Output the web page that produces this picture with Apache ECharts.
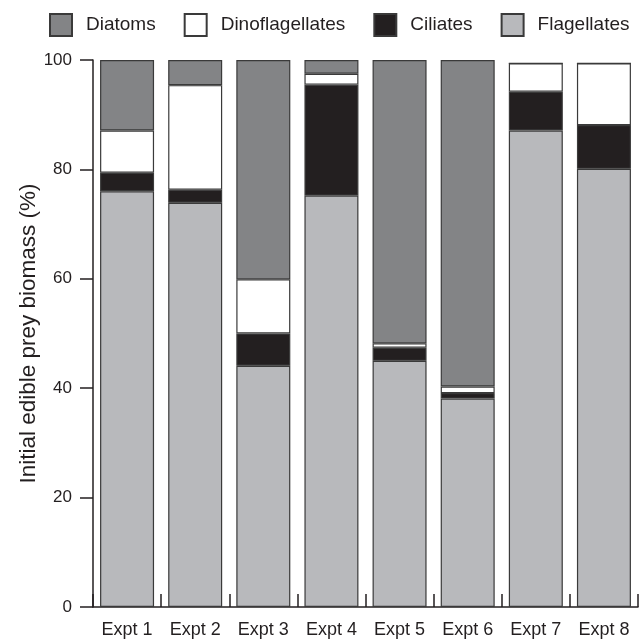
<!DOCTYPE html>
<html>
<head>
<meta charset="utf-8">
<script src="https://cdn.jsdelivr.net/npm/echarts@6/dist/echarts.min.js"></script>
<style>html,body{margin:0;padding:0;background:#fff;}#c{width:644px;height:639px;}</style>
</head>
<body>
<div id="c"></div>
<script>
const categories = ['Expt 1','Expt 2','Expt 3','Expt 4','Expt 5','Expt 6','Expt 7','Expt 8'];
const flagellates = [76.0, 73.9, 44.1, 75.2, 45.0, 38.1, 87.1, 80.1];
const ciliates = [3.4, 2.4, 5.9, 20.3, 2.4, 1.0, 7.1, 8.0];
const dinoflagellates = [7.7, 19.1, 9.9, 2.0, 0.8, 1.2, 5.2, 11.3];
const diatoms = [12.9, 4.6, 40.1, 2.5, 51.8, 59.7, 0, 0];
const yTicks = [0, 20, 40, 60, 80, 100];

const ink = '#231f20';
const font = 'Liberation Sans, Arial, Helvetica, sans-serif';
function bar(name, data, color) {
  return {
    name: name, type: 'bar', stack: 'total', data: data, barWidth: 54,
    itemStyle: { color: color, borderColor: '#3a3a3a', borderWidth: 1.2 },
    emphasis: { disabled: true }
  };
}
const chart = echarts.init(document.getElementById('c'), null, { renderer: 'canvas' });
chart.setOption({
  animation: false,
  backgroundColor: '#fff',
  textStyle: { fontFamily: font },
  legend: {
    data: ['Diatoms', 'Dinoflagellates', 'Ciliates', 'Flagellates'],
    orient: 'horizontal', left: 44, top: 8, width: 640, icon: 'rect', itemWidth: 22, itemHeight: 22, itemGap: 28,
    textStyle: { fontSize: 19, color: ink, fontFamily: font, padding: [0, 0, 0, 9] }
  },
  grid: { left: 93, right: 6, top: 60, bottom: 30, containLabel: false },
  xAxis: {
    type: 'category', data: categories,
    axisLine: { lineStyle: { color: ink, width: 1.5 } },
    axisTick: { show: true, inside: true, length: 13, alignWithLabel: false, lineStyle: { color: ink, width: 1.5 } },
    axisLabel: { color: ink, fontSize: 18, margin: 14, interval: 0, fontFamily: font }
  },
  yAxis: {
    type: 'value', min: yTicks[0], max: yTicks[yTicks.length - 1], interval: 20,
    name: 'Initial edible prey biomass (%)', nameLocation: 'middle', nameRotate: 90, nameGap: 53,
    nameMoveOverlap: false,
    nameTextStyle: { fontSize: 22.5, color: ink, fontFamily: font },
    axisLine: { show: true, lineStyle: { color: ink, width: 1.5 } },
    axisTick: { show: true, length: 13, lineStyle: { color: ink, width: 1.5 } },
    axisLabel: { color: ink, fontSize: 17, margin: 21, fontFamily: font },
    splitLine: { show: false }
  },
  series: [
    bar('Flagellates', flagellates, '#b8b9bc'),
    bar('Ciliates', ciliates, '#231f20'),
    bar('Dinoflagellates', dinoflagellates, '#ffffff'),
    bar('Diatoms', diatoms, '#838486')
  ]
});
</script>
</body>
</html>
